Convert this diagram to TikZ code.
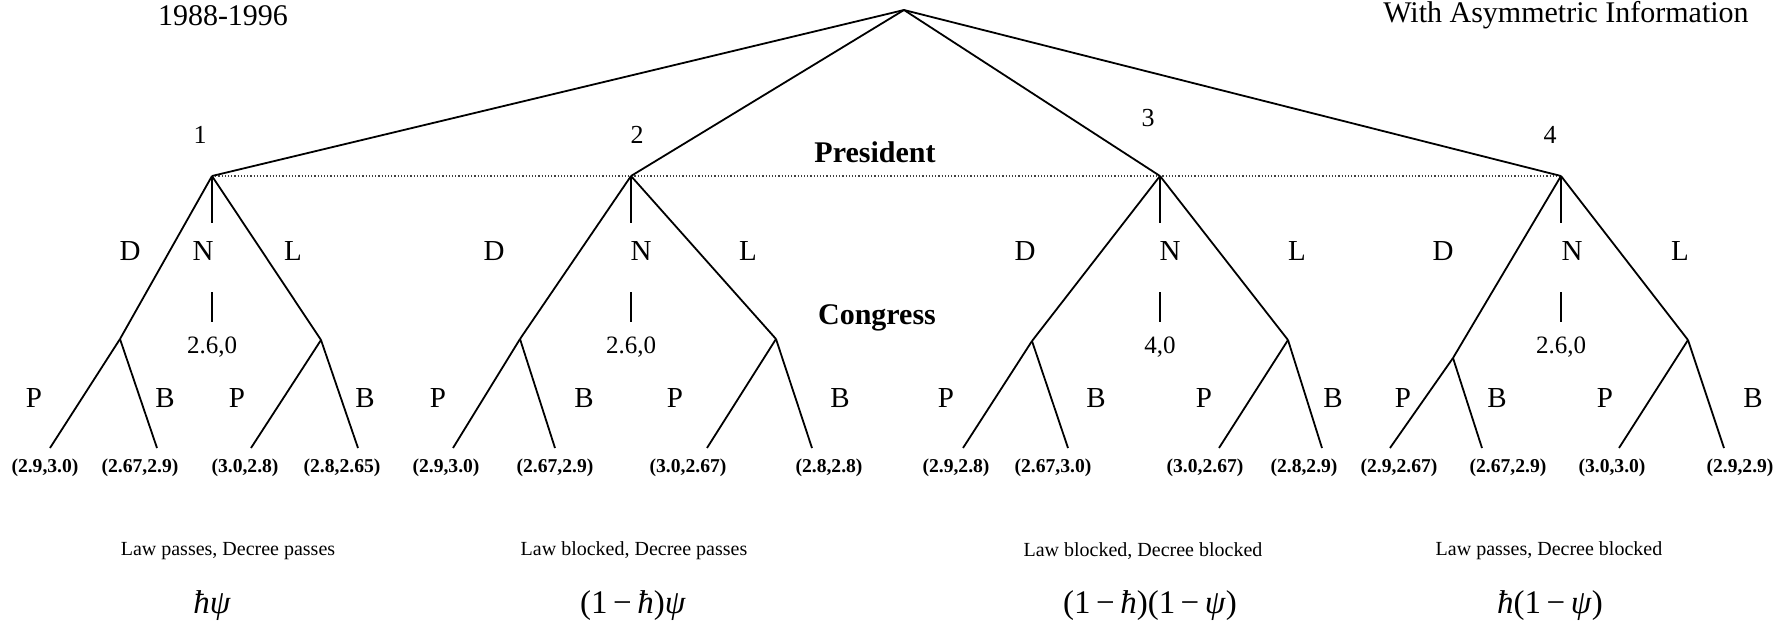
\documentclass[tikz,border=0pt]{standalone}
\usepackage{fontspec}
\setmainfont{Liberation Serif}
\newcommand{\fsz}[1]{\fontsize{#1}{#1}\selectfont}
\tikzset{
  branch/.style={line width=0.9pt},
  infoset/.style={densely dotted,line width=0.6pt,black!75},
  title/.style={font=\fsz{15}},
  num/.style={font=\fsz{13}},
  act/.style={font=\fsz{14.5}},
  who/.style={font=\bfseries\fsz{15}},
  outc/.style={font=\fsz{12.5},inner sep=0pt},
  pay/.style={font=\bfseries\fsz{9.8}},
  capt/.style={font=\fsz{10}},
  prob/.style={font=\fsz{16.5}}
}
\begin{document}
\begin{tikzpicture}[x=0.5pt,y=-0.5pt]
  \useasboundingbox (0,0) rectangle (1785,626);
  \node[title,anchor=base] (years) at (223,26) {1988-1996};
  \node[title,anchor=base] (asym) at (1566,23) {With Asymmetric Information};

  % first move and the president's information set
  \coordinate (root) at (904,10);
  \foreach \i/\x/\nx/\ny in {1/212/200/135,2/631/637/135,3/1160/1148/118,4/1561/1550/135} {
    \coordinate (p\i) at (\x,176);
    \node[num] (num\i) at (\nx,\ny) {\i};
  }
  \draw[infoset] (p1) -- (p4);
  \foreach \i in {1,...,4}
    \draw[branch] (root) -- (p\i);
  \node[who] (pres) at (875,152) {President};
  \node[who] (cong) at (877,318) {Congress};

  % D, N, L
  \foreach \i/\x/\dx/\nx/\lx/\v in {1/212/130/203/293/{2.6,0},
      2/631/494/641/748/{2.6,0},3/1160/1025/1170/1297/{4,0},
      4/1561/1443/1572/1680/{2.6,0}} {
    \node[act] (D\i) at (\dx,251) {D};
    \node[act] (N\i) at (\nx,251) {N};
    \node[act] (L\i) at (\lx,251) {L};
    \coordinate (na\i) at (\x,223);
    \coordinate (nb\i) at (\x,292);
    \coordinate (nc\i) at (\x,322);
    \node[outc,anchor=base] (nv\i) at (\x,353) {\v};
    \draw[branch] (p\i) -- (na\i);
    \draw[branch] (nb\i) -- (nc\i);
  }

  % congress
  \foreach \c/\up/\cx/\cy in {d1/p1/120/339,l1/p1/321/340,d2/p2/520/339,l2/p2/776/339,
      d3/p3/1032/341,l3/p3/1288/340,d4/p4/1453/358,l4/p4/1688/340} {
    \coordinate (\c) at (\cx,\cy);
    \draw[branch] (\up) -- (\c);
  }
  \foreach \c/\lp/\lb/\tp/\tb/\vp/\wp/\vb/\wb in {
      d1/50/157/34/165/45/{(2.9,3.0)}/140/{(2.67,2.9)},
      l1/251/358/237/365/245/{(3.0,2.8)}/342/{(2.8,2.65)},
      d2/453/555/438/584/446/{(2.9,3.0)}/555/{(2.67,2.9)},
      l2/707/812/675/840/688/{(3.0,2.67)}/829/{(2.8,2.8)},
      d3/963/1068/946/1096/956/{(2.9,2.8)}/1053/{(2.67,3.0)},
      l3/1219/1322/1204/1333/1205/{(3.0,2.67)}/1304/{(2.8,2.9)},
      d4/1390/1482/1403/1497/1399/{(2.9,2.67)}/1508/{(2.67,2.9)},
      l4/1619/1724/1605/1753/1612/{(3.0,3.0)}/1740/{(2.9,2.9)}} {
    \coordinate (lp\c) at (\lp,448);
    \coordinate (lb\c) at (\lb,448);
    \draw[branch] (\c) -- (lp\c);
    \draw[branch] (\c) -- (lb\c);
    \node[act] (P\c) at (\tp,398) {P};
    \node[act] (B\c) at (\tb,398) {B};
    \node[pay] (vp\c) at (\vp,468) {\wp};
    \node[pay] (vb\c) at (\vb,468) {\wb};
  }

  % outcomes
  \node[capt] (k1) at (228,551) {Law passes, Decree passes};
  \node[capt] (k2) at (634,551) {Law blocked, Decree passes};
  \node[capt] (k3) at (1143,551) {Law blocked, Decree blocked};
  \node[capt] (k4) at (1549,551) {Law passes, Decree blocked};
  \node[prob] (q1) at (212,606) {\textit{ħψ}};
  \node[prob] (q2) at (633,606) {(1\,−\,\textit{ħ})\textit{ψ}};
  \node[prob] (q3) at (1150,606) {(1\,−\,\textit{ħ})(1\,−\,\textit{ψ})};
  \node[prob] (q4) at (1550,606) {\textit{ħ}(1\,−\,\textit{ψ})};
\end{tikzpicture}
\end{document}
